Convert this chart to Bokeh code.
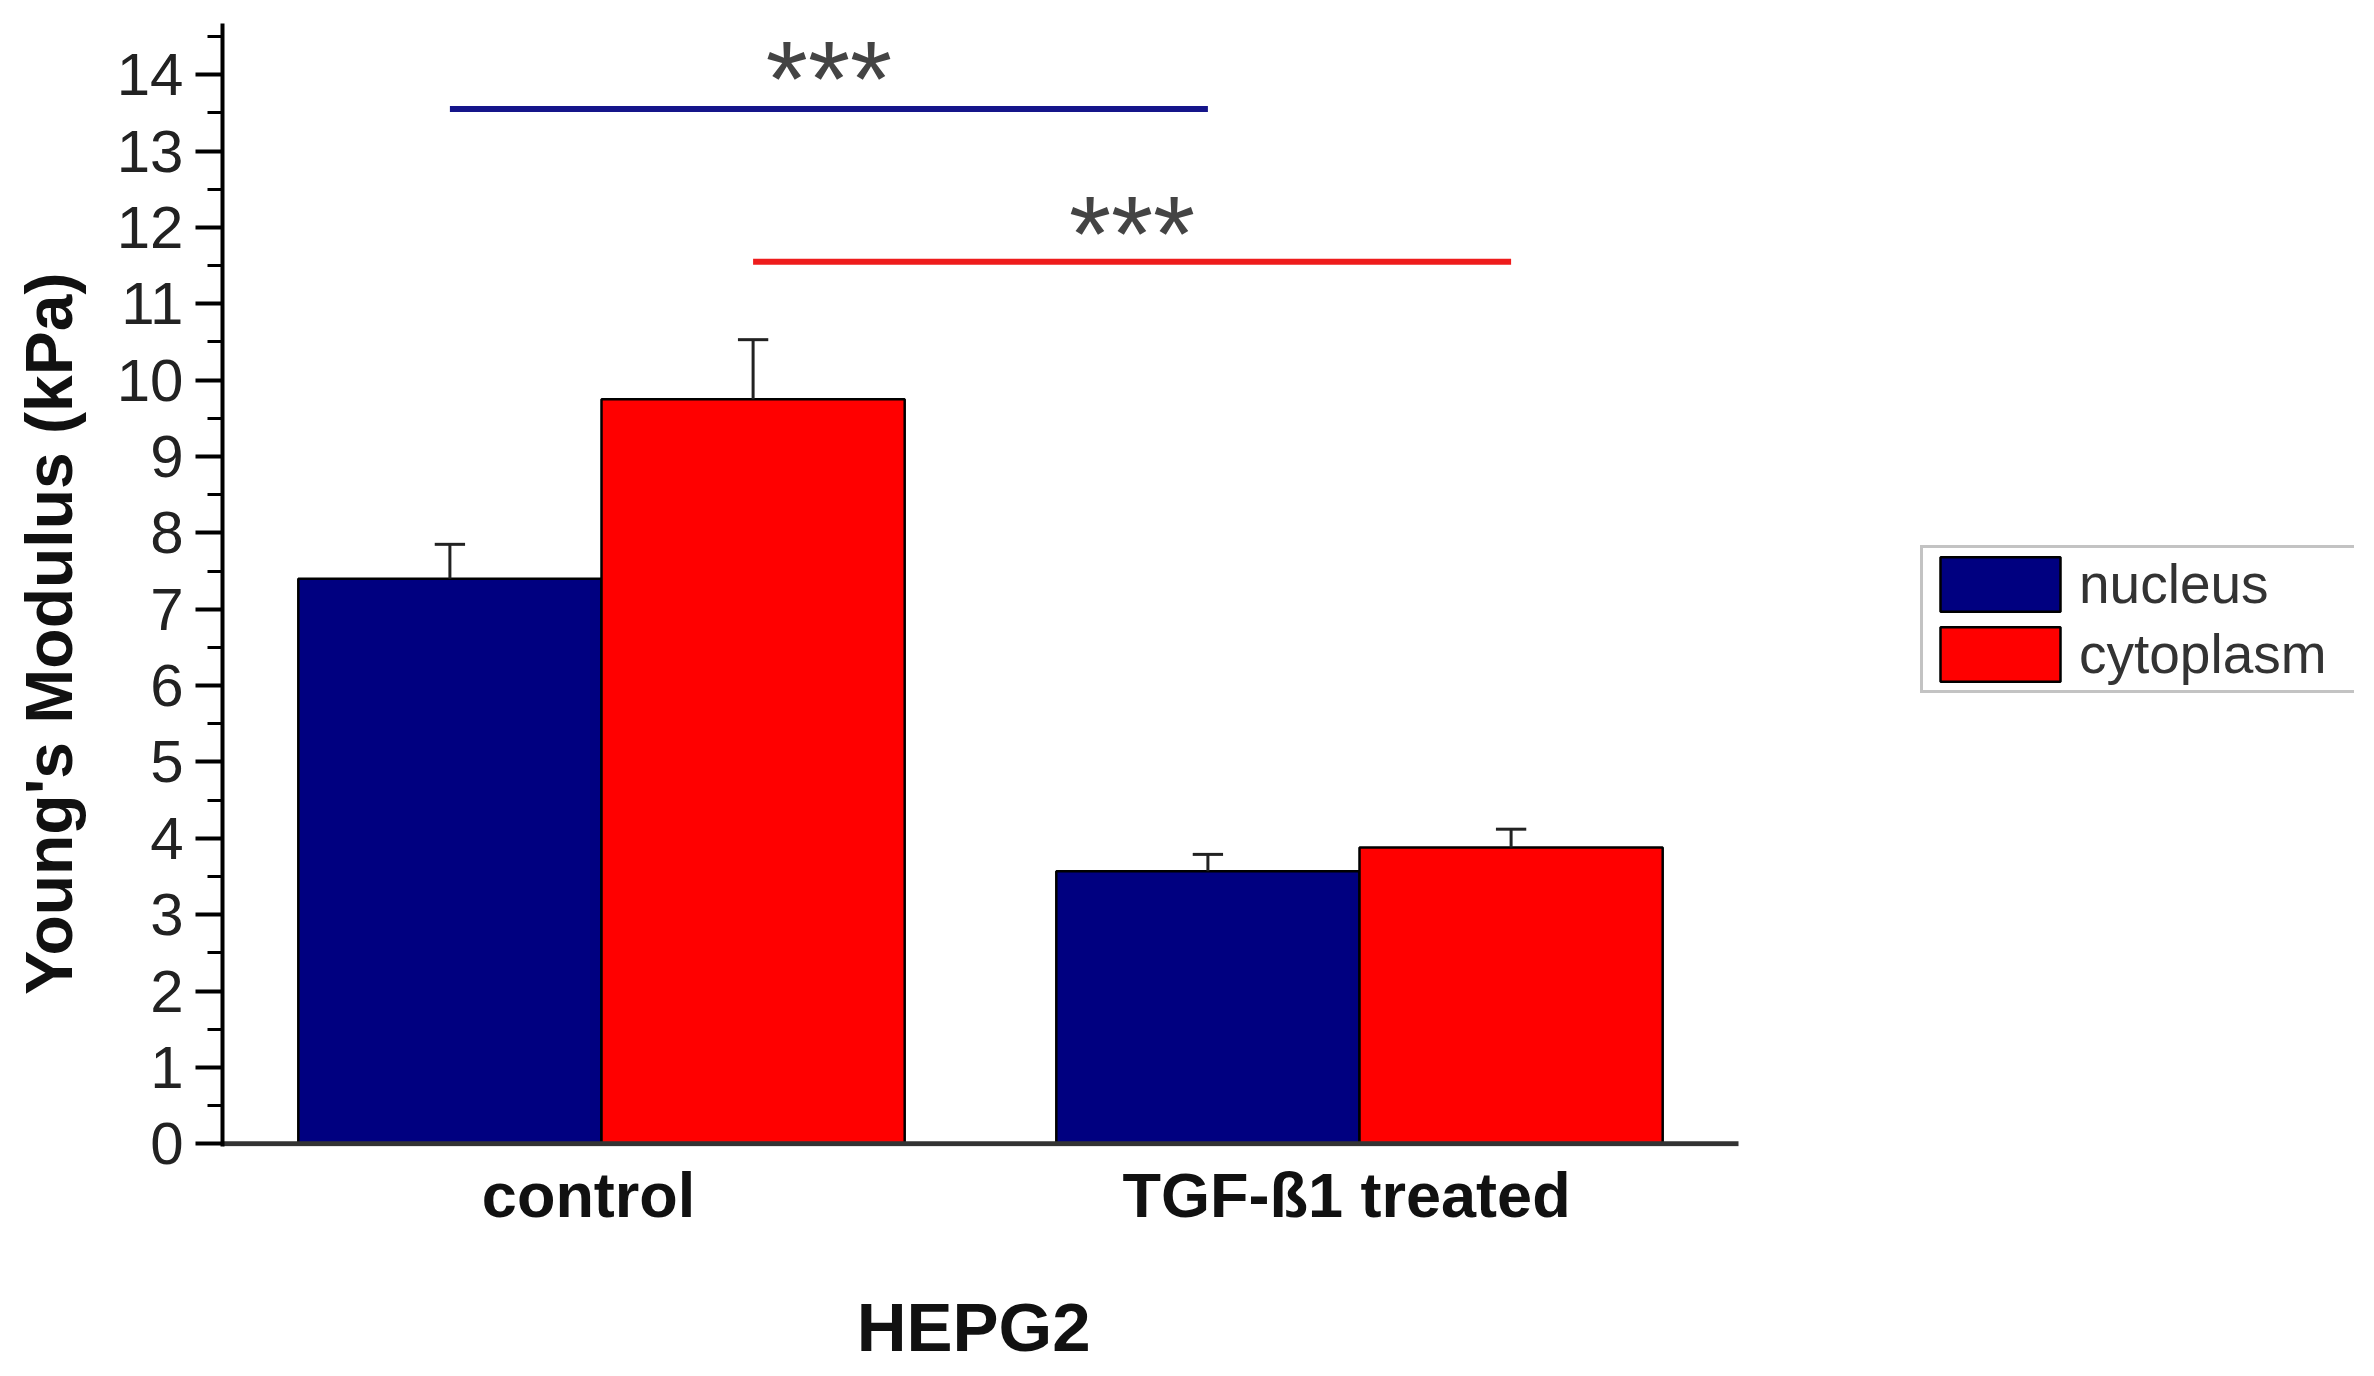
from bokeh.plotting import figure
from bokeh.models import Range1d, FixedTicker, Legend, LegendItem, LinearAxis, ColumnDataSource
from bokeh.core.properties import value
from bokeh.embed import file_html
from bokeh.resources import INLINE

# ---- data ----
groups = ["control", "TGF-ß1 treated"]
group_pos = [1, 2]
series = ["nucleus", "cytoplasm"]
nucleus = [7.40, 3.57]
nucleus_err = [0.45, 0.22]
cytoplasm = [9.75, 3.88]
cytoplasm_err = [0.78, 0.24]

# significance brackets (nucleus: control vs TGF, cytoplasm: control vs TGF)
sig_level = [13.55, 11.55]
sig_text = ["***", "***"]
sig_text_y = [13.95, 11.92]

y_ticks = list(range(0, 15))
y_minor = [i * 0.5 for i in range(0, 30)]

x_title = "HEPG2"
y_title = "Young's Modulus (kPa)"
x_title_pos = 1.491   # label anchor along x (data units)
y_title_pos = 6.68    # label anchor along y (data units)
x_label_shift = -0.017  # category labels sit slightly left of the group centre

FONT = "Liberation Sans"
NAVY = "#000080"
RED = "#ff0000"
BAR_W = 0.4
OFF = 0.2

W, H = 2358, 1368
LEFT, RIGHT, TOP, BOTTOM = 222, 4, 23, 220
PX_PER_X = 758.0
x_end = 0.5 + (W - LEFT - RIGHT) / PX_PER_X

p = figure(width=W, height=H, output_backend="svg", toolbar_location=None,
           x_range=Range1d(0.5, x_end), y_range=Range1d(-0.035, 14.67),
           min_border_left=LEFT, min_border_right=RIGHT, min_border_top=TOP, min_border_bottom=BOTTOM)
p.outline_line_color = None
p.xgrid.visible = False
p.ygrid.visible = False
p.background_fill_color = "white"

nx = [g - OFF for g in group_pos]
cx = [g + OFF for g in group_pos]
src_n = ColumnDataSource(dict(x=nx, top=nucleus, err=[t + e for t, e in zip(nucleus, nucleus_err)]))
src_c = ColumnDataSource(dict(x=cx, top=cytoplasm, err=[t + e for t, e in zip(cytoplasm, cytoplasm_err)]))

rn = p.vbar(x="x", top="top", bottom=0, width=BAR_W, source=src_n, fill_color=NAVY,
            line_color="black", line_width=2.5)
rc = p.vbar(x="x", top="top", bottom=0, width=BAR_W, source=src_c, fill_color=RED,
            line_color="black", line_width=2.5)

# x axis baseline (drawn as a glyph so the frame can also hold the legend)
p.segment(x0=[0.5], y0=[0], x1=[group_pos[-1] + 0.5], y1=[0], line_color="#333333", line_width=5)

# error bars (upper only)
CAP = 0.02
for src in (src_n, src_c):
    p.segment(x0="x", y0="top", x1="x", y1="err", source=src, line_color="#222222", line_width=3)
    d = src.data
    p.segment(x0=[x - CAP for x in d["x"]], y0=d["err"], x1=[x + CAP for x in d["x"]], y1=d["err"],
              line_color="#222222", line_width=3)

# significance lines
p.segment(x0=[nx[0]], y0=[sig_level[0]], x1=[nx[1]], y1=[sig_level[0]], line_color="#15158a", line_width=6)
p.segment(x0=[cx[0]], y0=[sig_level[1]], x1=[cx[1]], y1=[sig_level[1]], line_color="#ee1c1c", line_width=6)
p.text(x=[(nx[0] + nx[1]) / 2, (cx[0] + cx[1]) / 2], y=sig_text_y, text=sig_text,
       text_align="center", text_baseline="alphabetic", text_font=value(FONT),
       text_font_size="108px", text_color="#444444")

# y axis
ya = p.yaxis[0]
ya.ticker = FixedTicker(ticks=y_ticks, minor_ticks=y_minor)
ya.axis_line_color = "black"
ya.axis_line_width = 4
ya.major_tick_line_color = "black"
ya.major_tick_line_width = 4
ya.major_tick_out = 27
ya.major_tick_in = 0
ya.minor_tick_line_color = "black"
ya.minor_tick_line_width = 3
ya.minor_tick_out = 15
ya.minor_tick_in = 0
ya.major_label_text_font = FONT
ya.major_label_text_font_size = "60px"
ya.major_label_text_color = "#222222"
ya.major_label_standoff = 12

# y axis title (as a single label of an outer axis, for exact placement)
yt = LinearAxis(ticker=FixedTicker(ticks=[y_title_pos], minor_ticks=[]),
                major_label_overrides={y_title_pos: y_title},
                major_label_orientation="parallel", major_label_standoff=21,
                axis_line_color=None, major_tick_line_color=None, minor_tick_line_color=None,
                major_label_text_font=FONT, major_label_text_font_size="66px",
                major_label_text_font_style="bold", major_label_text_color="#111111")
p.add_layout(yt, "left")

# x axis (category labels)
label_pos = [g + x_label_shift for g in group_pos]
xa = p.xaxis[0]
xa.ticker = FixedTicker(ticks=label_pos, minor_ticks=[])
xa.major_label_overrides = {lp: name for lp, name in zip(label_pos, groups)}
xa.axis_line_color = None
xa.major_tick_line_color = None
xa.minor_tick_line_color = None
xa.major_label_text_font = FONT
xa.major_label_text_font_size = "63px"
xa.major_label_text_font_style = "bold"
xa.major_label_text_color = "#111111"
xa.major_label_standoff = 7

xt = LinearAxis(ticker=FixedTicker(ticks=[x_title_pos], minor_ticks=[]),
                major_label_overrides={x_title_pos: x_title}, major_label_standoff=50,
                axis_line_color=None, major_tick_line_color=None, minor_tick_line_color=None,
                major_label_text_font=FONT, major_label_text_font_size="69px",
                major_label_text_font_style="bold", major_label_text_color="#111111")
p.add_layout(xt, "below")

# legend
legend = Legend(items=[LegendItem(label=series[0], renderers=[rn]),
                       LegendItem(label=series[1], renderers=[rc])],
                location=(1698, 453), orientation="vertical",
                glyph_width=150, glyph_height=68, label_height=60, label_width=276,
                label_standoff=4, spacing=2, padding=2, margin=0,
                label_text_font=FONT, label_text_font_size="55px", label_text_color="#333333",
                border_line_color="#888888", border_line_width=3, background_fill_alpha=1.0)
p.add_layout(legend, "center")

open("out.html", "w").write(file_html(p, INLINE))
